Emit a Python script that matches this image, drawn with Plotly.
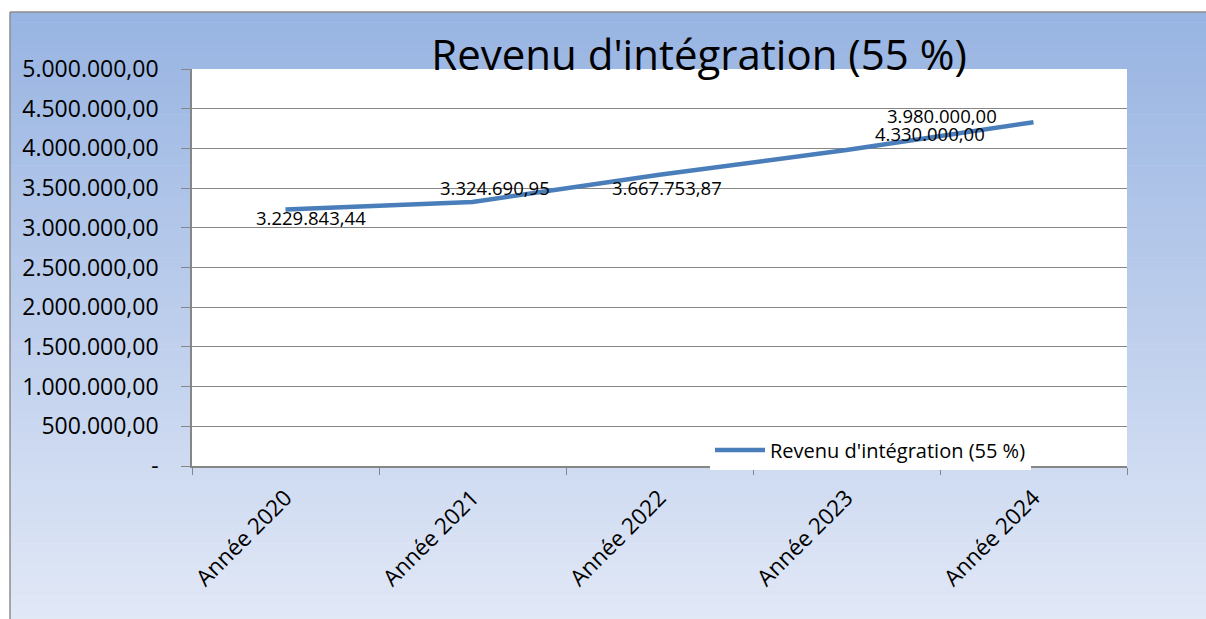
import plotly.graph_objects as go

categories = ["Année 2020", "Année 2021", "Année 2022", "Année 2023", "Année 2024"]
values = [3229843.44, 3324690.95, 3667753.87, 3980000.00, 4330000.00]
value_labels = ["3.229.843,44", "3.324.690,95", "3.667.753,87", "3.980.000,00", "4.330.000,00"]
y_tickvals = [0, 500000, 1000000, 1500000, 2000000, 2500000, 3000000, 3500000, 4000000, 4500000, 5000000]
y_ticktext = ["-", "500.000,00", "1.000.000,00", "1.500.000,00", "2.000.000,00", "2.500.000,00",
              "3.000.000,00", "3.500.000,00", "4.000.000,00", "4.500.000,00", "5.000.000,00"]
series_name = "Revenu d'intégration (55 %)"
title_text = "Revenu d'intégration (55 %)"

W, H = 1206, 619
# target plot-area edges in page pixels
PL, PR, PT, PB = 192, 1127, 69, 466
ML, MT = PL, PT
MR, MB = W - PR, H - PB
PW, PH = PR - PL, PB - PT

def px(x):
    return (x - PL) / PW

def py(y):
    return (PB - y) / PH

FONT = "Open Sans"

fig = go.Figure()
fig.add_trace(go.Scatter(
    x=categories, y=values, mode="lines", name=series_name,
    line=dict(color="#4A7EBB", width=4.5),
))

# label offsets (pixels) mimicking the reference placement
offsets = [(25, -8), (22, 15), (7, -13), (95, 34), (-104, -11)]
for c, v, t, (dx, dy) in zip(categories, values, value_labels, offsets):
    fig.add_annotation(x=c, y=v, text=t, showarrow=False, xshift=dx, yshift=dy,
                       font=dict(family=FONT, size=18.5, color="#000"))

# gradient background bands
shapes = []
top_c = (152, 180, 226)
bot_c = (225, 232, 246)
x0, x1 = 10, 1215
y0, y1 = 12, 625
n = 60
for i in range(n):
    f = i / (n - 1)
    col = tuple(int(round(top_c[k] + (bot_c[k] - top_c[k]) * f)) for k in range(3))
    ya = y0 + (y1 - y0) * i / n
    yb = y0 + (y1 - y0) * (i + 1) / n + 0.6
    shapes.append(dict(type="rect", xref="paper", yref="paper", layer="below",
                       x0=px(x0), x1=px(x1), y0=py(yb), y1=py(ya),
                       fillcolor="rgb(%d,%d,%d)" % col, line=dict(width=0)))
# outer border: left and top edges
shapes.append(dict(type="line", xref="paper", yref="paper", layer="below",
                   x0=px(x0), x1=px(x0), y0=py(y1), y1=py(y0),
                   line=dict(color="#8C8C8C", width=1.5)))
shapes.append(dict(type="line", xref="paper", yref="paper", layer="below",
                   x0=px(x0), x1=px(x1), y0=py(y0), y1=py(y0),
                   line=dict(color="#8C8C8C", width=1.5)))
# white plot area
shapes.append(dict(type="rect", xref="paper", yref="paper", layer="below",
                   x0=0, x1=1, y0=0, y1=1, fillcolor="white", line=dict(width=0)))

fig.update_layout(
    width=W, height=H,
    margin=dict(l=ML, r=MR, t=MT, b=MB),
    paper_bgcolor="white",
    plot_bgcolor="rgba(0,0,0,0)",
    font=dict(family=FONT, color="#000"),
    shapes=shapes,
    title=dict(text=title_text, x=699 / W, xref="container", xanchor="center",
               y=1 - 55 / H, yref="container", yanchor="middle",
               font=dict(family=FONT, size=42, color="#000")),
    showlegend=True,
    legend=dict(x=px(710), y=py(450), xanchor="left", yanchor="middle",
                bgcolor="white", font=dict(family=FONT, size=20, color="#000"),
                itemwidth=50),
    xaxis=dict(
        type="category", tickson="boundaries", ticks="outside", ticklen=7,
        tickcolor="#868686", showline=True, linecolor="#868686", linewidth=1.5,
        showgrid=False, tickangle=-45, range=[-0.5, 4.5],
        tickfont=dict(family=FONT, size=22.5, color="#000"),
        ticklabelstandoff=8,
    ),
    yaxis=dict(
        range=[0, 5000000], tickvals=y_tickvals, ticktext=y_ticktext,
        ticks="outside", ticklen=9, tickcolor="#868686",
        showline=True, linecolor="#868686", linewidth=1.5,
        showgrid=True, gridcolor="#868686", gridwidth=1.2, zeroline=False,
        tickfont=dict(family=FONT, size=23, color="#000"),
        ticklabelstandoff=18,
    ),
)

fig.write_html(
    "out.html",
    config={"displayModeBar": False},
    post_script="document.body.style.margin='0';document.body.style.overflow='hidden';",
)
